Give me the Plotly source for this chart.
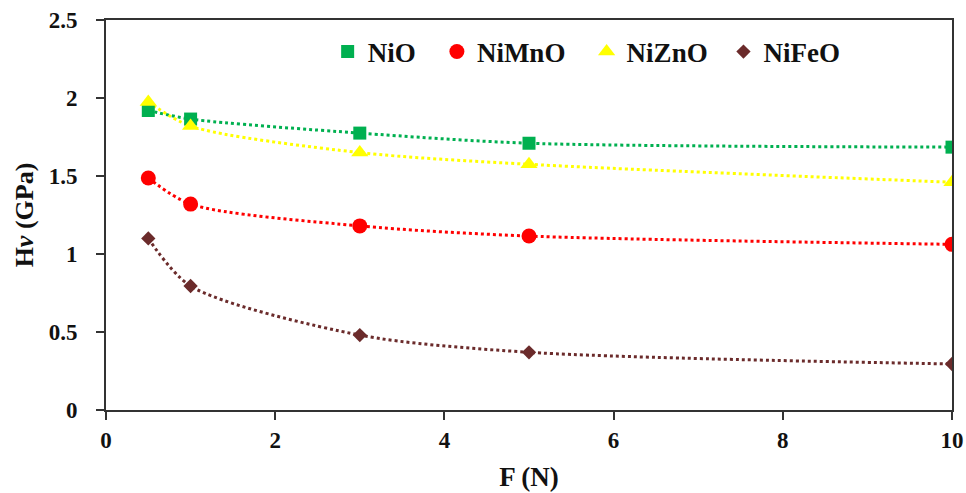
import plotly.graph_objects as go

force = [0.5, 1, 3, 5, 10]
nio = [1.92, 1.865, 1.775, 1.71, 1.685]
nimno = [1.487, 1.32, 1.18, 1.115, 1.062]
nizno = [1.975, 1.82, 1.65, 1.575, 1.46]
nifeo = [1.10, 0.795, 0.48, 0.37, 0.295]

series = [
    ("NiO", nio, "#00B050", "square", 13),
    ("NiMnO", nimno, "#FF0000", "circle", 15),
    ("NiZnO", nizno, "#FFFF00", "triangle-up", 15),
    ("NiFeO", nifeo, "#6B2B2B", "diamond", 11),
]
legend_pad = ["\u2009\u2009\u2009", "\u2009\u2009\u2009", "\u2009\u2009", ""]

fig = go.Figure()
for name, ys, col, sym, sz in series:
    fig.add_trace(go.Scatter(x=force, y=ys, mode="lines", showlegend=False,
                             line=dict(color=col, width=3, dash="dot", shape="spline", smoothing=0.8),
                             hoverinfo="skip"))
for (name, ys, col, sym, sz), pad in zip(series, legend_pad):
    fig.add_trace(go.Scatter(x=force, y=ys, mode="markers", name="<b>" + name + "</b>" + pad,
                             marker=dict(color=col, symbol=sym, size=sz, line=dict(width=0))))

serif = "Liberation Serif"
tickfont = dict(family=serif, size=23, color="#111", weight="bold")
fig.update_layout(
    width=966, height=493,
    margin=dict(l=106, r=14, t=20, b=83),
    plot_bgcolor="white", paper_bgcolor="white",
    font=dict(family=serif, size=20, color="#111"),
    legend=dict(orientation="h", x=0.262, y=0.918, xanchor="left", yanchor="middle",
                font=dict(family=serif, size=27, color="#111"),
                bgcolor="rgba(0,0,0,0)", itemwidth=30),
    xaxis=dict(range=[0, 10], dtick=2, tick0=0, showgrid=False, zeroline=False,
               showline=True, linecolor="#333", linewidth=2, mirror=True, automargin=False,
               ticks="outside", ticklen=8, tickwidth=2, tickcolor="#333",
               tickfont=tickfont,
               title=dict(text="<b>F (N)</b>", font=dict(family=serif, size=27, color="#111"), standoff=16)),
    yaxis=dict(range=[0, 2.5], dtick=0.5, tick0=0, showgrid=False, zeroline=False,
               showline=True, linecolor="#333", linewidth=2, mirror=True, automargin=False,
               ticks="outside", ticklen=8, tickwidth=2, tickcolor="#333",
               tickfont=tickfont, ticklabelstandoff=14,
               title=dict(text="<b>H<i>v</i> (GPa)</b>", font=dict(family=serif, size=26, color="#111"), standoff=8)),
)

fig.write_html("out.html")
